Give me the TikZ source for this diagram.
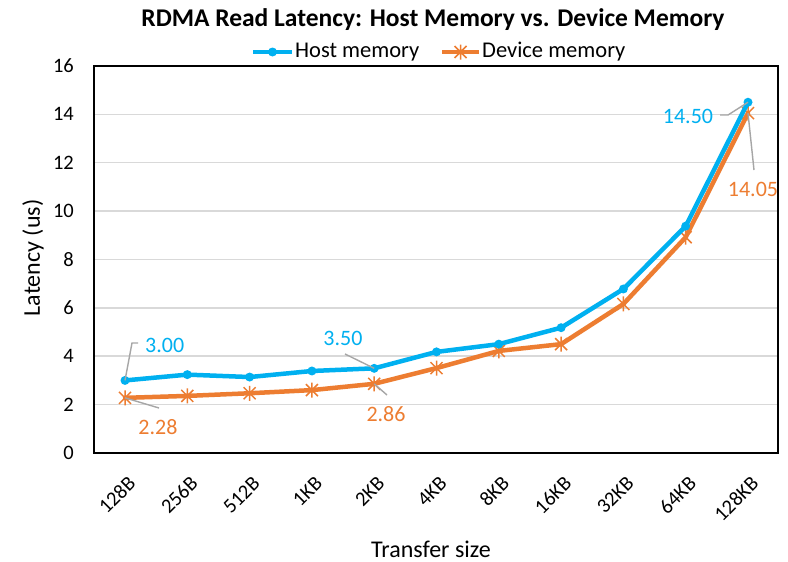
\documentclass[tikz,border=0pt]{standalone}
\usepackage{fontspec}
\setmainfont{Carlito}
\usetikzlibrary{calc}
\definecolor{hostc}{HTML}{00B0F0}
\definecolor{devc}{HTML}{ED7D31}
\definecolor{gridc}{HTML}{D9D9D9}
\definecolor{leadc}{HTML}{A6A6A6}
\tikzset{
  gridline/.style={draw=gridc, line width=1.5pt},
  frame/.style={draw=black, line width=1.6pt},
  hostline/.style={draw=hostc, line width=4.5pt, line join=round, line cap=round},
  devline/.style={draw=devc, line width=4.5pt, line join=round, line cap=round},
  hostmark/.style={fill=hostc, draw=none},
  devmark/.style={draw=devc, line width=1.5pt},
  leader/.style={draw=leadc, line width=1.4pt},
  ticklab/.style={font=\fontsize{20.5}{22}\selectfont, text=black, inner sep=0pt},
  legendlab/.style={font=\fontsize{22.5}{24}\selectfont, text=black, inner sep=0pt},
  axistitle/.style={font=\fontsize{24}{26}\selectfont, text=black, inner sep=0pt},
  hostlab/.style={font=\fontsize{22}{24}\selectfont, text=hostc, inner sep=0pt},
  devlab/.style={font=\fontsize{22}{24}\selectfont, text=devc, inner sep=0pt},
}
% asterisk marker: an X crossed by a vertical stroke
\newcommand{\starmark}[1]{%
  \draw[devmark] ($(#1)+(-6,-6)$) -- ($(#1)+(6,6)$)
                 ($(#1)+(-6,6)$) -- ($(#1)+(6,-6)$)
                 ($(#1)+(0,-7.5)$) -- ($(#1)+(0,7.5)$);}
\begin{document}
\begin{tikzpicture}[x=1pt,y=-1pt]
\useasboundingbox[fill=white] (0,0) rectangle (788,562);

% title
\node[font=\fontsize{25.5}{27}\selectfont\bfseries, inner sep=0pt, anchor=base] (title) at (433,27)
  {RDMA Read Latency: Host Memory vs. Device Memory};

% legend
\coordinate (lh1) at (253,52); \coordinate (lh2) at (292,52);
\draw[hostline, line cap=butt] (lh1) -- (lh2);
\fill[hostmark] ($(lh1)!0.5!(lh2)$) circle (4.5);
\node[legendlab, anchor=west] (lhtxt) at (295,52) {Host memory};
\coordinate (ld1) at (442,52); \coordinate (ld2) at (479,52);
\draw[devline, line cap=butt] (ld1) -- (ld2);
\coordinate (ldm) at ($(ld1)!0.5!(ld2)$);
\starmark{ldm}
\node[legendlab, anchor=west] (ldtxt) at (482,52) {Device memory};

% grid, frame and y tick labels
\foreach \v in {2,4,...,14}
  \draw[gridline] (94,{453-24.19*\v}) -- (778,{453-24.19*\v});
\draw[frame] (94,66) rectangle (778,453);
\foreach \v in {0,2,...,16}
  \node[ticklab, anchor=east] (yt\v) at (74,{453-24.19*\v}) {\v};
\node[axistitle, rotate=90] (ylab) at (33,258) {Latency (us)};

% x tick labels
\foreach \s [count=\i from 0] in {128B,256B,512B,1KB,2KB,4KB,8KB,16KB,32KB,64KB,128KB}
  \node[ticklab, rotate=45, anchor=east] (xt\i) at ({132+62.3*\i},480) {\s};
\node[axistitle, anchor=base] (xlab) at (431,557) {Transfer size};

% data points
\foreach \v [count=\i from 0] in {3.00,3.24,3.14,3.39,3.50,4.18,4.50,5.18,6.78,9.38,14.50}
  \coordinate (h\i) at ({125+62.3*\i},{453-24.19*\v});
\foreach \v [count=\i from 0] in {2.28,2.36,2.47,2.60,2.86,3.51,4.22,4.50,6.16,8.92,14.05}
  \coordinate (d\i) at ({125+62.3*\i},{453-24.19*\v});

% device memory series
\draw[devline] (d0) \foreach \i in {1,...,10} { -- (d\i) };
\foreach \i in {0,...,10} { \starmark{d\i} }

% host memory series
\draw[hostline] (h0) \foreach \i in {1,...,10} { -- (h\i) };
\foreach \i in {0,...,10} \fill[hostmark] (h\i) circle (4.5);

% data labels with leader lines
\node[hostlab, anchor=west] (lh0) at (145,345) {3.00};
\draw[leader] (h0) -- (132,343) -- (138,343);
\node[devlab] (ld0) at (158,427) {2.28};
\draw[leader] (d0) -- (159,408);
\node[hostlab] (lh4) at (343,338) {3.50};
\draw[leader] (h4) -- (345,354);
\node[devlab] (ld4) at (386,414) {2.86};
\draw[leader] (d4) -- (387,395);
\node[hostlab] (lh10) at (688,116) {14.50};
\draw[leader] (h10) -- (728,115) -- (720,115);
\node[devlab] (ld10) at (753,189) {14.05};
\draw[leader] (d10) -- (754,170);
\end{tikzpicture}
\end{document}
